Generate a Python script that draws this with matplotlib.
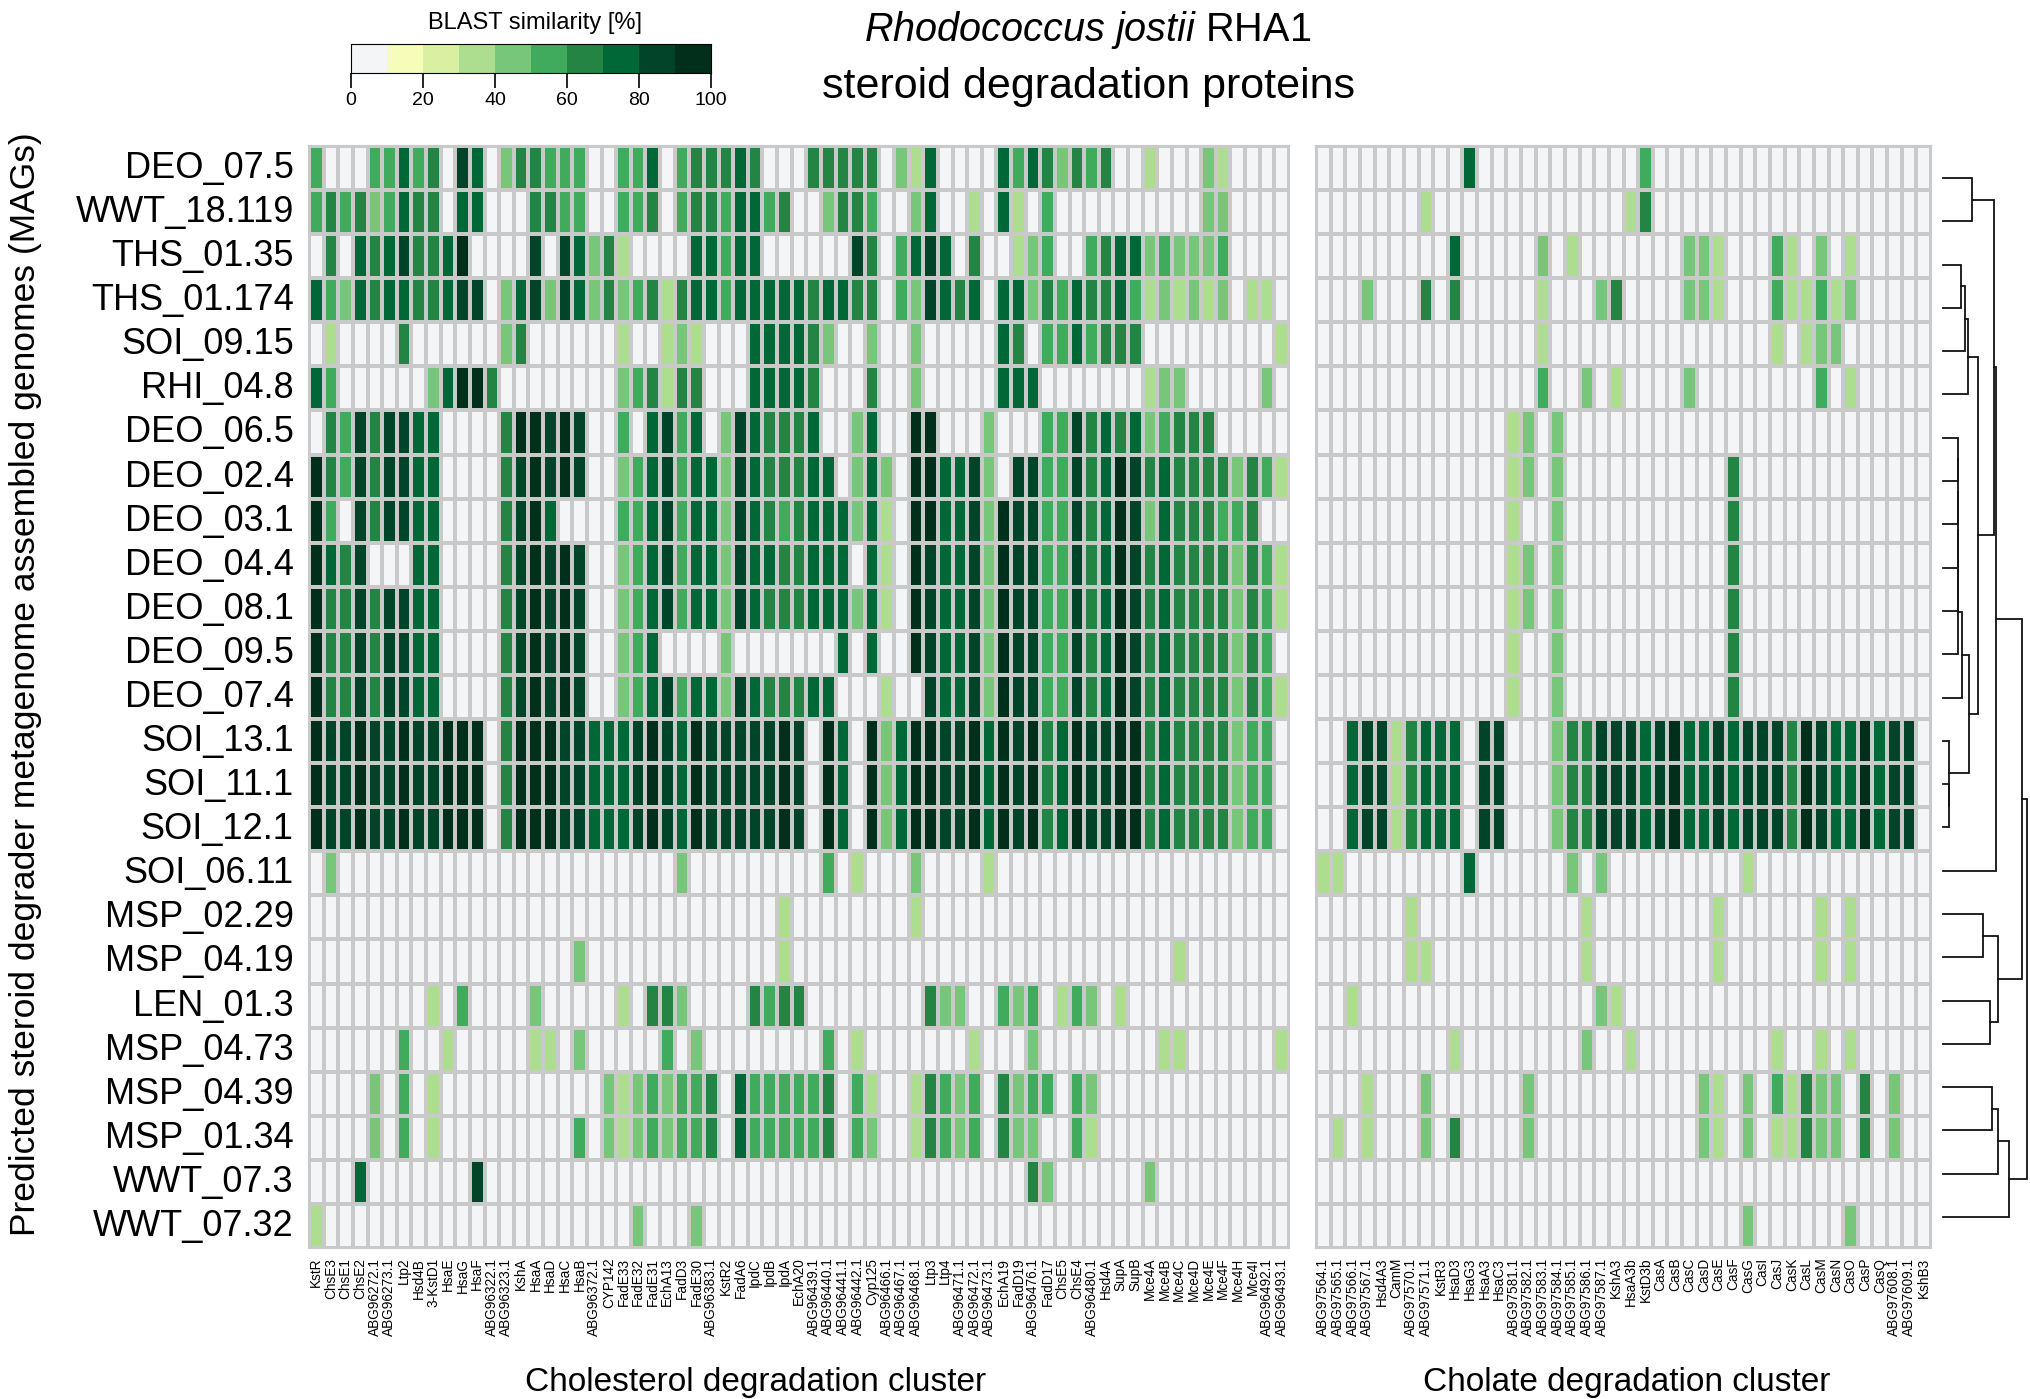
import matplotlib
matplotlib.use('Agg')
import matplotlib.pyplot as plt
from matplotlib.colors import ListedColormap, BoundaryNorm
import numpy as np

plt.rcParams['font.family'] = ['Liberation Sans', 'DejaVu Sans']
plt.rcParams['mathtext.fontset'] = 'custom'
plt.rcParams['mathtext.it'] = 'Liberation Sans:italic'
plt.rcParams['mathtext.rm'] = 'Liberation Sans'

W, H = 2030, 1399

mags = ['DEO_07.5', 'WWT_18.119', 'THS_01.35', 'THS_01.174', 'SOI_09.15', 'RHI_04.8', 'DEO_06.5',
        'DEO_02.4', 'DEO_03.1', 'DEO_04.4', 'DEO_08.1', 'DEO_09.5', 'DEO_07.4', 'SOI_13.1',
        'SOI_11.1', 'SOI_12.1', 'SOI_06.11', 'MSP_02.29', 'MSP_04.19', 'LEN_01.3', 'MSP_04.73',
        'MSP_04.39', 'MSP_01.34', 'WWT_07.3', 'WWT_07.32']

chol_genes = ['KstR', 'ChsE3', 'ChsE1', 'ChsE2', 'ABG96272.1', 'ABG96273.1', 'Ltp2', 'Hsd4B', '3-KstD1',
              'HsaE', 'HsaG', 'HsaF', 'ABG96322.1', 'ABG96323.1', 'KshA', 'HsaA', 'HsaD', 'HsaC', 'HsaB',
              'ABG96372.1', 'CYP142', 'FadE33', 'FadE32', 'FadE31', 'EchA13', 'FadD3', 'FadE30',
              'ABG96383.1', 'KstR2', 'FadA6', 'IpdC', 'IpdB', 'IpdA', 'EchA20', 'ABG96439.1', 'ABG96440.1',
              'ABG96441.1', 'ABG96442.1', 'Cyp125', 'ABG96466.1', 'ABG96467.1', 'ABG96468.1', 'Ltp3', 'Ltp4',
              'ABG96471.1', 'ABG96472.1', 'ABG96473.1', 'EchA19', 'FadD19', 'ABG96476.1', 'FadD17', 'ChsE5',
              'ChsE4', 'ABG96480.1', 'Hsd4A', 'SupA', 'SupB', 'Mce4A', 'Mce4B', 'Mce4C', 'Mce4D', 'Mce4E',
              'Mce4F', 'Mce4H', 'Mce4I', 'ABG96492.1', 'ABG96493.1']

chola_genes = ['ABG97564.1', 'ABG97565.1', 'ABG97566.1', 'ABG97567.1', 'Hsd4A3', 'CamM', 'ABG97570.1',
               'ABG97571.1', 'KstR3', 'HsaD3', 'HsaG3', 'HsaA3', 'HsaC3', 'ABG97581.1', 'ABG97582.1',
               'ABG97583.1', 'ABG97584.1', 'ABG97585.1', 'ABG97586.1', 'ABG97587.1', 'KshA3', 'HsaA3b',
               'KstD3b', 'CasA', 'CasB', 'CasC', 'CasD', 'CasE', 'CasF', 'CasG', 'CasI', 'CasJ', 'CasK',
               'CasL', 'CasM', 'CasN', 'CasO', 'CasP', 'CasQ', 'ABG97608.1', 'ABG97609.1', 'KshB3']

# similarity read off by decile: digit d means the d*10..d*10+10 % bin, 0 means no hit
chol_bins = [
    '5000557560 8704665550 0557056667 600 0666660437 0000757646 5600300043 0000',
    '5656457660 7700066550 0556056657 756 0046650047 0030730500 0000000044 0000',
    '0607678667 9000080874 6300007757 700 0000860578 7060034500 5677454445 0000',
    '7547677667 8804784874 6456367757 777 7677660548 7670774657 6675343434 0330',
    '0300006000 0004600000 0300343000 777 7640040040 0000760557 5666000000 0003',
    '7500000047 9960000000 0456366000 777 7600060040 0000777000 0000344000 0040',
    '0658688770 0006998980 0507857048 766 6700470099 0004000558 6767456660 0000',
    '9658688770 0006898980 0457857748 766 6770474099 7784088558 6798676666 4653',
    '9508688770 0006897000 0557857748 765 6777473099 7784988558 6798476665 5600',
    '9768000770 0006898980 0457857748 776 6777073098 7784988558 6798676666 4653',
    '9668688770 0006898980 0457857748 766 6777473098 7784988558 6798676666 4653',
    '9668688770 0006898980 0457000040 000 0007070098 7784988558 6798676666 4650',
    '9668688770 0006898980 0457857748 766 6770003008 7784988558 6798676666 4653',
    '9889889889 9906999887 7789879888 889 8097094799 8897989679 8899676666 4550',
    '9889889889 9906999887 7789879888 889 8097094799 8897989679 8899676666 4550',
    '9889889889 9906999887 7789879888 889 8097094799 8897989679 8899676666 4550',
    '0400000000 0000000000 0000040000 000 0050300040 0003000000 0000000000 0000',
    '0000000000 0000000000 0000000000 003 0000000030 0000000000 0000000000 0000',
    '0000000000 0000000040 0000000000 003 0000000000 0000000000 0000003000 0000',
    '0000000030 5000040000 0306640000 656 6000000006 4400545035 4030000000 0000',
    '0000005003 0000033040 0000504000 000 0050300000 0030004000 0000033000 0003',
    '0000405030 0000000000 4345455607 555 5560530036 5450645505 4000000000 0000',
    '0000405030 0000000050 4345455607 555 5560540036 5450644005 3000000000 0000',
    '0007000000 0800000000 0000000000 000 0000000000 0000006400 0000400000 0000',
    '3000000000 0000000000 0040004000 000 0000000000 0000000000 0000000000 0000',
]

chola_bins = [
    '0000000000 7000000000 0050000000 0000000000 00',
    '0000000300 0000000000 0360000000 0000000000 00',
    '0000000007 0000040300 0000044300 0530403000 00',
    '0004000606 0000030004 6000044300 0533534000 00',
    '0000000000 0000030000 0000000000 0303440000 00',
    '0000000000 0000050040 3000040000 0000503000 00',
    '0000000000 0003404000 0000000000 0000000000 00',
    '0000000000 0003404000 0000000060 0000000000 00',
    '0000000000 0003004000 0000000060 0000000000 00',
    '0000000000 0003404000 0000000060 0000000000 00',
    '0000000000 0003404000 0000000060 0000000000 00',
    '0000000000 0003004000 0000000060 0000000000 00',
    '0000000000 0003004000 0000000060 0000000000 00',
    '0078836777 0880004668 8878977878 8869877978 80',
    '0078836777 0880004668 8878977878 8869877978 80',
    '0078836777 0880004668 8878977878 8869877978 80',
    '3300000000 7000000404 0000000003 0000000000 00',
    '0000003000 0000000030 0000000300 0000303000 00',
    '0000003300 0000000030 0000000300 0000303000 00',
    '0030000000 0000000004 3000000000 0000000000 00',
    '0000000003 0000000040 0300000000 0300303000 00',
    '0003000400 0000400000 0000004304 0536440604 00',
    '0303000406 0000400000 0000004304 0336440604 00',
    '0000000000 0000000000 0000000000 0000000000 00',
    '0000000000 0000000000 0000000004 0000004000 00',
]

# (left, right, height) merges, new nodes numbered from 25 upward like a linkage table
merges = [(0, 1, 85), (2, 3, 53), (26, 4, 65), (27, 5, 73),
          (6, 7, 44), (29, 8, 44.5), (30, 9, 45), (31, 10, 45.5), (32, 11, 46),
          (33, 12, 58), (14, 15, 17), (13, 35, 18), (34, 36, 76),
          (28, 37, 103), (25, 38, 153), (39, 16, 157),
          (17, 18, 118), (19, 20, 140), (41, 42, 163), (40, 43, 235),
          (21, 22, 145), (45, 23, 165), (46, 24, 195), (44, 47, 250)]

colors = ['#F4F5F7', '#F7FCB9', '#D9F0A3', '#ADDD8E', '#78C679', '#41AB5D', '#238443', '#006837', '#004529',
          '#002F1C']
edges = np.arange(0, 101, 10)
cmap = ListedColormap(colors)
norm = BoundaryNorm(edges, cmap.N)


def to_values(rows):
    out = []
    for r in rows:
        digits = r.replace(' ', '')
        out.append([0 if c == '0' else int(c) * 10 + 5 for c in digits])
    return np.array(out)


def px_axes(fig, x0, y0, x1, y1):
    return fig.add_axes([x0 / W, 1 - y1 / H, (x1 - x0) / W, (y1 - y0) / H])


def heatmap(ax, values, genes):
    ax.pcolormesh(values, cmap=cmap, norm=norm, edgecolors='#C9C9C9', linewidth=1.5)
    ax.set_ylim(len(values), 0)
    ax.set_xlim(0, values.shape[1])
    ax.set_xticks(np.arange(len(genes)) + 0.5)
    ax.set_xticklabels(genes, rotation=90, fontsize=9.8, ha='center', va='top')
    ax.tick_params(axis='x', length=0, pad=7)
    ax.set_yticks([])
    for s in ax.spines.values():
        s.set_color('#C9C9C9')
        s.set_linewidth(1.5)


fig = plt.figure(figsize=(W / 100, H / 100), dpi=100)

ax1 = px_axes(fig, 309, 146, 1289, 1248)
heatmap(ax1, to_values(chol_bins), chol_genes)
ax1.set_yticks(np.arange(len(mags)) + 0.42)
ax1.set_yticklabels(mags, fontsize=26)
ax1.tick_params(axis='y', length=0, pad=11)

ax2 = px_axes(fig, 1316, 146, 1931, 1248)
heatmap(ax2, to_values(chola_bins), chola_genes)

fig.text(26 / W, 1 - 684 / H, 'Predicted steroid degrader metagenome assembled genomes (MAGs)',
         rotation=90, fontsize=25.5, ha='center', va='center')
fig.text(756 / W, 1 - 1383 / H, 'Cholesterol degradation cluster', fontsize=24, ha='center', va='center')
fig.text(1627 / W, 1 - 1383 / H, 'Cholate degradation cluster', fontsize=24, ha='center', va='center')
fig.text(1088 / W, 1 - 30 / H, r'$\mathit{Rhodococcus\ jostii}$ RHA1', fontsize=28.5, ha='center', va='center')
fig.text(1088 / W, 1 - 87 / H, 'steroid degradation proteins', fontsize=31, ha='center', va='center')

# colour key
cax = px_axes(fig, 351, 44, 711, 73)
cax.pcolormesh(edges, [0, 1], (edges[:-1] + 5).reshape(1, -1), cmap=cmap, norm=norm)
cax.set_yticks([])
cax.set_xticks(np.arange(0, 101, 20))
cax.tick_params(axis='x', length=11, width=1.2, labelsize=14, pad=3)
fig.text(535 / W, 1 - 23 / H, 'BLAST similarity [%]', fontsize=17, ha='center', va='center')

# dendrogram
dax = px_axes(fig, 1943, 178, 2029, 1217)
dax.set_xlim(0, 256)
dax.set_ylim(24, 0)
dax.axis('off')
pos = {i: (i, 0) for i in range(len(mags))}
for k, (a, b, h) in enumerate(merges):
    ya, ha = pos[a]
    yb, hb = pos[b]
    dax.plot([ha, h, h, hb], [ya, ya, yb, yb], color='#111111', lw=1.3, clip_on=False, solid_joinstyle='miter')
    pos[len(mags) + k] = ((ya + yb) / 2, h)

fig.savefig('out.png', dpi=100)
